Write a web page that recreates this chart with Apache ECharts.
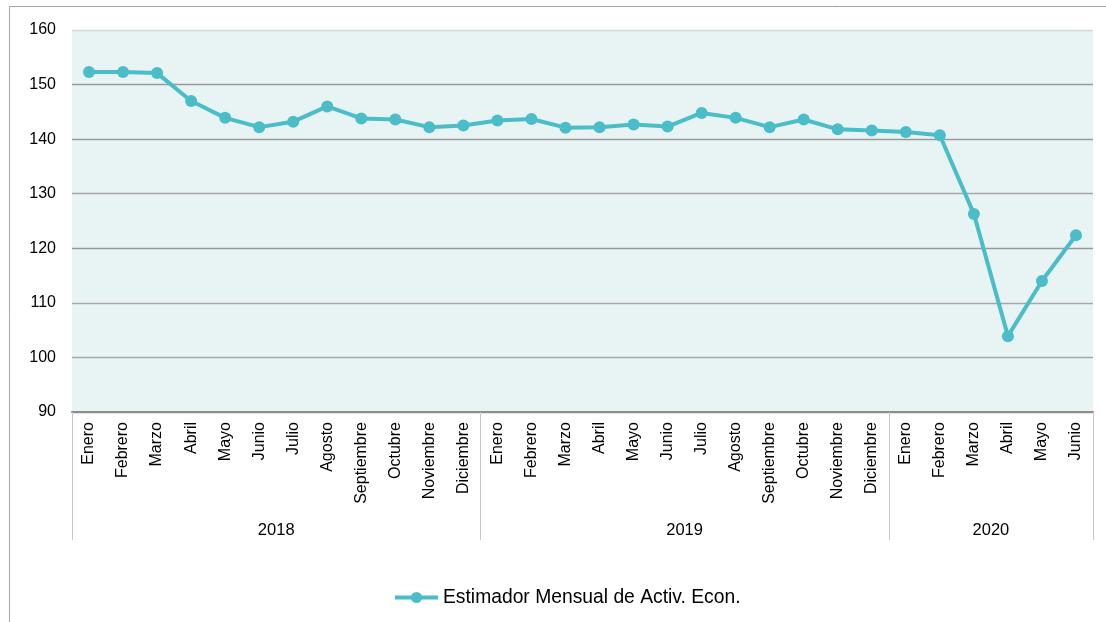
<!DOCTYPE html>
<html>
<head>
<meta charset="utf-8">
<script src="https://cdn.jsdelivr.net/npm/echarts@6/dist/echarts.min.js"></script>
<style>html,body{margin:0;padding:0;background:#fff}#c{width:1106px;height:622px}</style>
</head>
<body>
<div id="c"></div>
<script>
var months = ['Enero','Febrero','Marzo','Abril','Mayo','Junio','Julio','Agosto','Septiembre','Octubre','Noviembre','Diciembre',
              'Enero','Febrero','Marzo','Abril','Mayo','Junio','Julio','Agosto','Septiembre','Octubre','Noviembre','Diciembre',
              'Enero','Febrero','Marzo','Abril','Mayo','Junio'];
var years = ['2018','2019','2020'];
var yearCenters = [6, 18, 27];
var yearStarts = [0, 12, 24];
var values = [152.3,152.3,152.1,147.0,143.9,142.2,143.2,146.0,143.8,143.6,142.2,142.5,
              143.4,143.7,142.1,142.2,142.7,142.3,144.8,143.9,142.2,143.6,141.8,141.6,
              141.3,140.7,126.3,103.9,114.0,122.4];
var yTicks = {min: 90, max: 160, step: 10};
var seriesName = 'Estimador Mensual de Activ. Econ.';

var chart = echarts.init(document.getElementById('c'), null, {renderer: 'canvas'});
var font = '"Liberation Sans", Arial, sans-serif';
chart.setOption({
  animation: false,
  textStyle: {fontFamily: font},
  graphic: [{
    type: 'rect', z: -10, silent: true,
    shape: {x: 9.5, y: 6.5, width: 1120, height: 640},
    style: {fill: 'none', stroke: '#A6A6A6', lineWidth: 1}
  }],
  grid: {left: 72, right: 13, top: 30, bottom: 210, show: true, backgroundColor: '#E8F4F4', borderWidth: 0},
  legend: {
    left: 393, top: 588, padding: 0, itemWidth: 43, itemHeight: 14, itemGap: 5,
    textStyle: {fontSize: 19.3, color: '#000', fontFamily: font},
    lineStyle: {width: 4},
    data: [seriesName]
  },
  xAxis: [{
    type: 'category', data: months, boundaryGap: true,
    axisLine: {show: true, lineStyle: {color: '#8C8C8C', width: 2}},
    axisTick: {show: true, length: 128, interval: function (i) { return yearStarts.indexOf(i) >= 0; },
               lineStyle: {color: '#C6C6C6', width: 1}},
    axisLabel: {interval: 0, rotate: 90, margin: 10, fontSize: 16, color: '#000', fontFamily: font},
    splitLine: {show: false}
  }, {
    type: 'value', min: 0, max: 30, interval: 3, position: 'bottom', offset: 102,
    axisLine: {show: false}, axisTick: {show: false}, splitLine: {show: false},
    axisLabel: {
      margin: 8, fontSize: 16.5, color: '#000', fontFamily: font, showMinLabel: true, showMaxLabel: true,
      formatter: function (v) { var k = yearCenters.indexOf(v); return k >= 0 ? years[k] : ''; }
    }
  }],
  yAxis: {
    type: 'value', min: yTicks.min, max: yTicks.max, interval: yTicks.step,
    axisLine: {show: false}, axisTick: {show: false},
    axisLabel: {margin: 16, fontSize: 16, color: '#000', fontFamily: font},
    splitLine: {show: true, lineStyle: {color: ['#999999','#A8A8A8','#A8A8A8','#999999','#A8A8A8','#999999','#999999','#D2D6D6'], width: 1.3}}
  },
  series: [{
    name: seriesName, type: 'line', data: values, xAxisIndex: 0,
    symbol: 'circle', symbolSize: 12,
    lineStyle: {color: '#4BBDC8', width: 4},
    itemStyle: {color: '#4BBDC8'}
  }]
});
</script>
</body>
</html>
